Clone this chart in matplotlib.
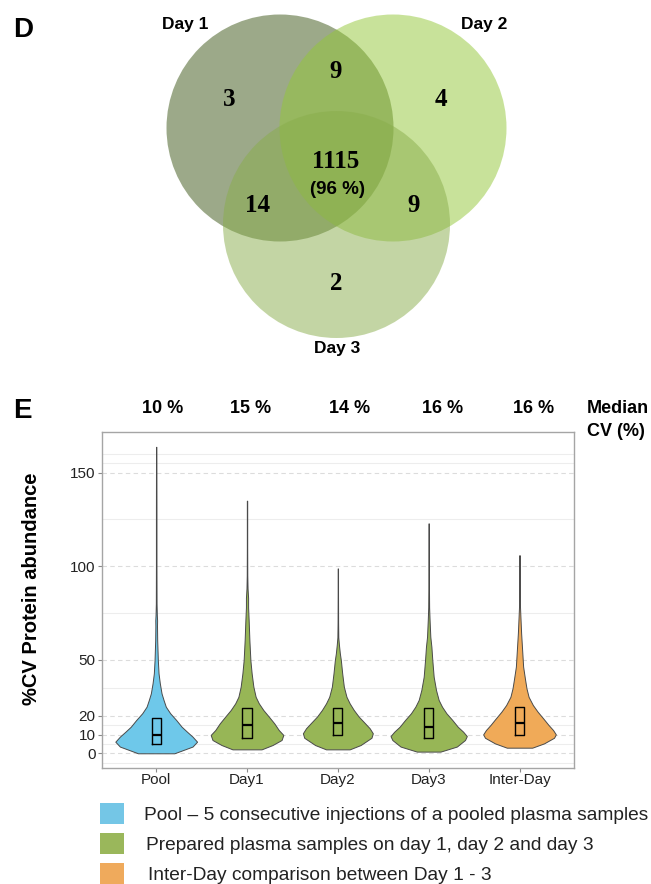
import matplotlib
matplotlib.use("Agg")
import matplotlib.pyplot as plt
from matplotlib.patches import Circle, Rectangle
import numpy as np

# ---------------- Venn data ----------------
venn_sets = ["Day 1", "Day 2", "Day 3"]
venn_only = [3, 4, 2]          # Day1 only, Day2 only, Day3 only
venn_pairs = [9, 14, 9]        # D1&D2, D1&D3, D2&D3
venn_all = 1115
venn_all_pct = "(96 %)"

# ---------------- Violin data ----------------
groups = ["Pool", "Day1", "Day2", "Day3", "Inter-Day"]
median_cv_labels = ["10 %", "15 %", "14 %", "16 %", "16 %"]

pool_cv = [0, 3.6, 6.2, 8.9, 11.5, 14.2, 17.8, 21.4, 24.9, 28.5, 32, 37.4, 42.7,
           49.8, 60.5, 68, 71, 74, 80, 100, 130, 163.8]
pool_w = [0.20, 0.40, 0.45, 0.40, 0.34, 0.28, 0.22, 0.154, 0.106, 0.081, 0.059, 0.04,
          0.026, 0.018, 0.011, 0.009, 0.010, 0.007, 0.004, 0.003, 0.003, 0.002]

day1_cv = [2.1, 4.4, 7.1, 9.8, 12.4, 16, 19.6, 23.1, 26.7, 30.2, 35.6, 42.7, 49.8,
           60.5, 71.2, 78, 83, 88, 95, 110, 135]
day1_w = [0.16, 0.28, 0.38, 0.40, 0.35, 0.30, 0.24, 0.18, 0.13, 0.095, 0.07, 0.051,
          0.037, 0.026, 0.018, 0.012, 0.012, 0.006, 0.003, 0.002, 0.002]

day2_cv = [2.1, 4.4, 8.3, 10.7, 13.4, 16, 19.6, 23.1, 26.7, 30.2, 35.6, 42.7, 49.8,
           53.4, 58, 62, 70, 85, 98.8]
day2_w = [0.13, 0.25, 0.37, 0.385, 0.35, 0.30, 0.23, 0.176, 0.13, 0.095, 0.066, 0.048,
          0.033, 0.022, 0.012, 0.005, 0.003, 0.002, 0.002]

day3_cv = [0.9, 3.6, 7.1, 9.2, 11.5, 14.2, 17.8, 21.4, 24.9, 28.5, 33.8, 40.9, 49.8,
           56.9, 62.3, 71.2, 78, 90, 122.9]
day3_w = [0.13, 0.31, 0.40, 0.42, 0.38, 0.32, 0.26, 0.195, 0.147, 0.11, 0.081, 0.055,
          0.04, 0.03, 0.018, 0.01, 0.005, 0.003, 0.002]

inter_cv = [3.0, 5.3, 8.3, 10.1, 12.4, 15.1, 18.7, 22.2, 25.8, 30.2, 34.7, 39.2, 46.3,
            55.2, 64.1, 73, 80, 90, 105.9]
inter_w = [0.14, 0.27, 0.38, 0.40, 0.37, 0.32, 0.26, 0.20, 0.147, 0.10, 0.077, 0.062,
           0.04, 0.029, 0.018, 0.01, 0.004, 0.003, 0.002]

box_q1 = [5, 8, 10, 8, 10]
box_med = [10, 15, 16, 14, 16]
box_q3 = [19, 24, 24, 24, 25]

major_ticks = [0, 10, 20, 50, 100, 150]
minor_lines = [-5, 5, 15, 35, 75, 125, 155, 160]

legend_labels = ["Pool \u2013 5 consecutive injections of a pooled plasma samples",
                 "Prepared plasma samples on day 1, day 2 and day 3",
                 "Inter-Day comparison between Day 1 - 3"]

# ---------------- styles ----------------
SANS = "Liberation Sans"
SERIF = "Liberation Serif"
col_pool = "#6EC8EA"
col_day = "#97B656"
col_inter = "#F0AA58"
violin_colors = [col_pool, col_day, col_day, col_day, col_inter]
legend_colors = ["#74C6E6", "#9AB75B", "#EFAA5C"]
venn_colors = ["#3B5515", "#93C737", "#89AD4B"]

W, H = 651, 884
fig = plt.figure(figsize=(W / 100, H / 100), dpi=100)

# overlay axes in pixel coordinates
ov = fig.add_axes([0, 0, 1, 1])
ov.set_xlim(0, W)
ov.set_ylim(H, 0)
ov.axis("off")
ov.patch.set_visible(False)

# ---------------- Panel D: Venn ----------------
r = 113.5
centers = [(280, 128), (393, 128), (336.5, 224.5)]
for (cx, cy), c in zip(centers, venn_colors):
    ov.add_patch(Circle((cx, cy), r, facecolor=c, edgecolor="none", alpha=0.5))

ov.text(23, 30, "D", fontsize=20, fontweight="bold", family=SANS, ha="center", va="center")
set_label_pos = [(185, 25), (484.6, 25), (336.7, 349)]
for (x, y), s in zip(set_label_pos, venn_sets):
    ov.text(x, y, s, fontsize=12.5, fontweight="bold", family=SANS, ha="center", va="center")

num_kw = dict(fontsize=18, fontweight="bold", family=SERIF, ha="center", va="center")
only_pos = [(229.5, 99.5), (441, 100), (336.7, 283)]
for (x, y), v in zip(only_pos, venn_only):
    ov.text(x, y, str(v), **num_kw)
pair_pos = [(335.5, 71), (257.5, 205), (413.5, 205)]
for (x, y), v in zip(pair_pos, venn_pairs):
    ov.text(x, y, str(v), **num_kw)
ov.text(335.5, 161, str(venn_all), **num_kw)
ov.text(337.5, 189.5, venn_all_pct, fontsize=13.5, fontweight="bold", family=SANS,
        ha="center", va="center")

# ---------------- Panel E: violins ----------------
ax_l, ax_r, ax_t, ax_b = 101.7, 574.0, 431.7, 767.7
ax = fig.add_axes([ax_l / W, 1 - ax_b / H, (ax_r - ax_l) / W, (ax_b - ax_t) / H])
ax.set_xlim(0.4, 5.6)
ax.set_ylim(-7.7, 171.9)

for y in minor_lines:
    ax.axhline(y, color="#EDEDED", lw=0.8, zorder=0)
for y in major_ticks:
    ax.axhline(y, color="#DCDCDC", lw=0.8, ls=(0, (4, 3)), zorder=0.5)

profiles = [(pool_cv, pool_w), (day1_cv, day1_w), (day2_cv, day2_w),
            (day3_cv, day3_w), (inter_cv, inter_w)]
positions = np.arange(1, len(groups) + 1)
for pos, (cv, w), c in zip(positions, profiles, violin_colors):
    cv = np.asarray(cv, float)
    w = np.asarray(w, float)
    ax.fill_betweenx(cv, pos - w, pos + w, facecolor=c, edgecolor="#4A4A4A",
                     linewidth=0.7, zorder=2)

stats = [dict(med=m, q1=a, q3=b, whislo=a, whishi=b, fliers=[])
         for a, m, b in zip(box_q1, box_med, box_q3)]
ax.bxp(stats, positions=positions, widths=0.1, showcaps=False, showfliers=False,
       patch_artist=False, manage_ticks=False,
       boxprops=dict(color="black", linewidth=1.0),
       whiskerprops=dict(linewidth=0),
       medianprops=dict(color="black", linewidth=1.6), zorder=3)

ax.set_xticks(positions)
ax.set_xticklabels(groups, family=SANS)
ax.set_yticks(major_ticks)
ax.set_yticklabels([str(t) for t in major_ticks], family=SANS)
ax.tick_params(axis="both", length=3, width=0.8, color="#8A8A8A", labelsize=11,
               labelcolor="#222222")
ax.tick_params(axis="x", pad=1)
ax.tick_params(axis="y", pad=1.5)
for s in ax.spines.values():
    s.set_color("#A5A5A5")
    s.set_linewidth(1.0)

# median labels above
median_label_dx = [0.07, 0.04, 0.13, 0.15, 0.155]
for pos, dx, s in zip(positions, median_label_dx, median_cv_labels):
    ax.text(pos + dx, (ax_b - 408.3) / (ax_b - ax_t), s, transform=ax.get_xaxis_transform(),
            ha="center", va="center", fontsize=13, fontweight="bold", family=SANS,
            clip_on=False)

ov.text(586.7, 408.3, "Median", fontsize=13, fontweight="bold", family=SANS,
        ha="left", va="center")
ov.text(586.7, 431, "CV (%)", fontsize=13, fontweight="bold", family=SANS,
        ha="left", va="center")
ov.text(22, 411, "E", fontsize=20, fontweight="bold", family=SANS, ha="center", va="center")
ov.text(31.25, 588.3, "%CV Protein abundance", fontsize=14.5, fontweight="bold", family=SANS,
        rotation=90, ha="center", va="center")

# legend
leg_tops = [803, 833, 863]
leg_text_x = [144, 146, 148]
for top, tx, c, s in zip(leg_tops, leg_text_x, legend_colors, legend_labels):
    ov.add_patch(Rectangle((100, top), 24, 21, facecolor=c, edgecolor="none"))
    ov.text(tx, top + 12, s, fontsize=13.8, family=SANS, color="#222222",
            ha="left", va="center")

fig.savefig("out.png", dpi=100)
